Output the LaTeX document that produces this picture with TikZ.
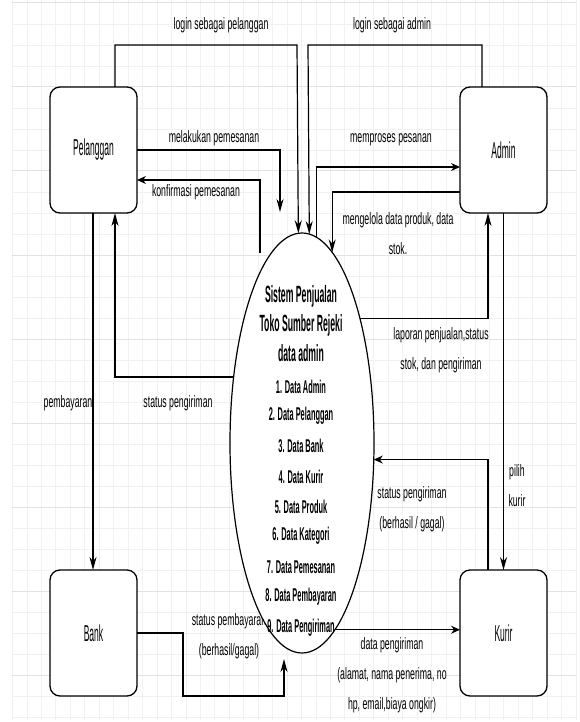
\documentclass[tikz,border=0pt]{standalone}
\usepackage{fontspec}
\setmainfont{Liberation Sans}
\newfontfamily\lblfont[FakeStretch=0.53]{Liberation Sans}
\newfontfamily\boxfont[FakeStretch=0.37]{Liberation Sans}
\newfontfamily\ttlfont[FakeStretch=0.37]{Liberation Sans}
\newfontfamily\itmfont[FakeStretch=0.40]{Liberation Sans}
\usetikzlibrary{arrows.meta,shapes.geometric}
\definecolor{gridminor}{HTML}{F1F1F1}
\definecolor{gridmajor}{HTML}{E2E2E2}
\begin{document}
\begin{tikzpicture}[x=1pt,y=-1pt,
  conn/.style={line width=1.2pt, draw=black},
  varr/.style={-{Stealth[length=13pt,width=7pt]}},
  harr/.style={-{Stealth[length=9pt,width=8pt]}},
  entity/.style={draw, line width=1.3pt, rounded corners=10pt, minimum width=87pt,
    minimum height=126pt, inner sep=0pt, outer sep=0pt, fill=white,
    font=\boxfont\fontsize{23}{26}\selectfont},
  lbl/.style={inner sep=0pt, align=center, font=\lblfont\fontsize{16.5}{30}\selectfont},
  ttl/.style={inner sep=0pt, align=center, font=\ttlfont\bfseries\fontsize{23.5}{29.5}\selectfont},
  itm/.style={inner sep=0pt, font=\itmfont\bfseries\fontsize{18.5}{22}\selectfont},
  gminor/.style={draw=gridminor, line width=0.8pt},
  gmajor/.style={draw=gridmajor, line width=1pt}
]
\useasboundingbox (0,0) rectangle (579,722);
\fill[white] (0,0) rectangle (579,722);
% grid
\foreach \k in {0,...,39} \draw[gminor] ({12.5+14.45*\k},0) -- ({12.5+14.45*\k},720);
\foreach \k in {0,...,34} {
  \pgfmathtruncatemacro{\m}{mod(\k,4)}
  \ifnum\m=0 \draw[gmajor] (12,{3+21*\k}) -- (576,{3+21*\k});
  \else \draw[gminor] (12,{3+21*\k}) -- (576,{3+21*\k}); \fi
}

% entities
\node[entity] (pel) at (93.5,150) {Pelanggan};
\node[entity] (adm) at (503.5,150) {Admin};
\node[entity] (bank) at (93.5,633) {Bank};
\node[entity] (kur) at (503.5,633) {Kurir};

% label partly hidden behind the process
\node[lbl] (lsp) at (229,636) {status pembayaran\\(berhasil/gagal)};

% process
\node[ellipse, draw, line width=1.2pt, fill=white, minimum width=144pt,
  minimum height=420pt, inner sep=0pt, outer sep=0pt] (sys) at (302,443) {};
\node[ttl] (ttl) at (301,323.5) {Sistem Penjualan\\Toko Sumber Rejeki\\data admin};
\foreach \t/\y [count=\i] in {Data Admin/387, Data Pelanggan/416, Data Bank/446,
  Data Kurir/477, Data Produk/507, Data Kategori/536, Data Pemesanan/567,
  Data Pembayaran/597, Data Pengiriman/628}
  \node[itm] (it\i) at (301,\y) {\i. \t};

% named bend points / free ends
\coordinate (lp) at (297,45);
\coordinate (la) at (308,45);
\coordinate (mk) at (280,212);
\coordinate (kf) at (260,253);
\coordinate (sp1) at (183,696);
\coordinate (sp2) at (284,659);

% connectors
\draw[conn,varr] ([xshift=21.5pt]pel.north) |- (lp) -- (sys.91.37);
\draw[conn,varr] ([xshift=-21.5pt]adm.north) |- (la) -- (sys.88.36);
\draw[conn,varr] (pel.east) -| (mk);
\draw[conn,harr] (kf) |- ([yshift=-30pt]pel.east);
\draw[conn,harr] (sys.86.11) |- ([yshift=-17pt]adm.west);
\draw[conn,varr] ([yshift=-42pt]adm.west) -| (sys.81.42);
\draw[conn,varr] (sys.65.43) -| ([xshift=-15.5pt]adm.south);
\draw[conn,varr] (adm.south) -- (kur.north);
\draw[conn,harr] ([xshift=-15.5pt]kur.north) |- (sys.-13.32);
\draw[conn,varr] (sys.136.99) -| ([xshift=21.5pt]pel.south);
\draw[conn,varr] ([xshift=-0.5pt]pel.south) -- ([xshift=-0.5pt]bank.north);
\draw[conn,varr] (bank.east) -| (sp1) -| (sp2);
\draw[conn,harr] (sys.-80.57) -- (sys.-80.57 -| kur.west);

% labels
\node[lbl] at (221,25) {login sebagai pelanggan};
\node[lbl] at (392,25) {login sebagai admin};
\node[lbl] at (214,138) {melakukan pemesanan};
\node[lbl] at (196,192) {konfirmasi pemesanan};
\node[lbl] at (391,140) {memproses pesanan};
\node[lbl] at (398,234) {mengelola data produk, data\\stok.};
\node[lbl] at (441,350) {laporan penjualan,status\\stok, dan pengiriman};
\node[lbl] at (517,486) {pilih\\kurir};
\node[lbl] at (412,509) {status pengiriman\\(berhasil / gagal)};
\node[lbl] at (178,403) {status pengiriman};
\node[lbl] at (68,403) {pembayaran};
\node[lbl] at (392,675) {data pengiriman\\(alamat, nama penerima, no\\hp, email,biaya ongkir)};
\end{tikzpicture}
\end{document}
